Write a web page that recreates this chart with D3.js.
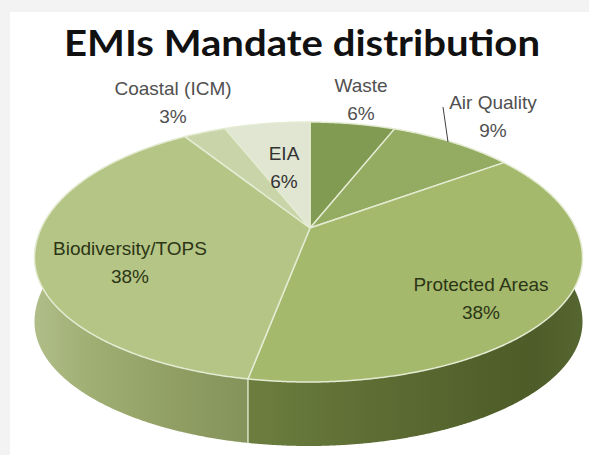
<!DOCTYPE html>
<html>
<head>
<meta charset="utf-8">
<script src="https://cdn.jsdelivr.net/npm/d3@7"></script>
<style>
  html, body { margin: 0; padding: 0; background: #ffffff; }
  svg { display: block; }
</style>
</head>
<body>
<svg id="chart" width="589" height="455"></svg>
<script>
// ---- data ----
const title = "EMIs Mandate distribution";
const categories = ["Waste", "Air Quality", "Protected Areas", "Biodiversity/TOPS", "Coastal (ICM)", "EIA"];
const values = [6, 9, 38, 38, 3, 6];
const pctLabels = ["6%", "9%", "38%", "38%", "3%", "6%"];

// ---- styles / layout ----
const topColors = ["#819b52", "#93ac61", "#a4b96c", "#b5c585", "#c9d5a8", "#e0e6d2"];
const sideStops = [
  [["#6a7f3a", 0], ["#5a6d30", 1]],
  [["#6a7f3a", 0], ["#5a6d30", 1]],
  [["#6c7e3f", 0], ["#5c6c33", 0.4], ["#4d5c28", 0.85], ["#566631", 1]],
  [["#b0bd88", 0], ["#a0af74", 0.25], ["#8f9d63", 0.7], ["#84935a", 1]],
  [["#b0bd88", 0], ["#a0af74", 1]],
  [["#b0bd88", 0], ["#a0af74", 1]]
];
const labelLayout = {
  "Waste":             { x: 361, y: 92,  color: "#505050" },
  "Air Quality":       { x: 493, y: 109, color: "#505050" },
  "Protected Areas":   { x: 481, y: 291, color: "#2c3516" },
  "Biodiversity/TOPS": { x: 130, y: 255, color: "#2c3516" },
  "Coastal (ICM)":     { x: 173, y: 95,  color: "#505050" },
  "EIA":               { x: 284, y: 160, color: "#333333" }
};
const lineGap = 28;

// geometry: apex of slices, outline of the top face (two half-ellipses), perspective angle mapping
const AX = 310, AY = 228;                       // where slices meet
const OCX = 308.5, ORX = 274, OYE = 258, ORYU = 136, ORYL = 124; // top face outline
const D = 4.99, SA = 0.464, CA = 0.889;          // perspective used for slice directions
const THICK = 64;
function dirOf(theta) {
  const z = D + Math.cos(theta) * CA;
  return [Math.sin(theta) / z, -Math.cos(theta) * SA / z];
}
function inside(x, y) {
  const u = (x - OCX) / ORX;
  const v = (y - OYE) / (y < OYE ? ORYU : ORYL);
  return u * u + v * v <= 1;
}
function rim(theta) {
  const d = dirOf(theta);
  let lo = 0, hi = 5000;
  for (let k = 0; k < 50; k++) {
    const m = (lo + hi) / 2;
    if (inside(AX + d[0] * m, AY + d[1] * m)) lo = m; else hi = m;
  }
  return [AX + d[0] * lo, AY + d[1] * lo];
}

const svg = d3.select("#chart");
const W = 589, Hh = 455;

// background: faint gray margin top/left, white card
svg.append("rect").attr("x", 0).attr("y", 0).attr("width", W).attr("height", Hh).attr("fill", "#f3f3f3");
svg.append("rect").attr("x", 10).attr("y", 12).attr("width", W - 10).attr("height", Hh - 12).attr("fill", "#ffffff");

// title
svg.append("text")
  .attr("x", 302).attr("y", 56)
  .attr("text-anchor", "middle")
  .attr("font-family", "Lato, 'Open Sans', sans-serif")
  .attr("font-weight", "bold")
  .attr("font-size", 37)
  .attr("fill", "#111111")
  .attr("textLength", 476)
  .attr("lengthAdjust", "spacingAndGlyphs")
  .text(title);

const pie = d3.pie().sort(null).startAngle(0).endAngle(2 * Math.PI);
const arcs = pie(values);
const line = d3.line();
const defs = svg.append("defs");

function sample(a0, a1, step) {
  const n = Math.max(2, Math.ceil((a1 - a0) / step));
  return d3.range(n + 1).map(i => a0 + (a1 - a0) * i / n);
}

// side walls (draw far first)
const mid = a => (a.startAngle + a.endAngle) / 2;
const wallOrder = arcs.map((a, i) => i)
  .sort((i, j) => Math.cos(mid(arcs[j])) - Math.cos(mid(arcs[i])));
const walls = svg.append("g");
wallOrder.forEach(i => {
  const a = arcs[i];
  const ts = sample(a.startAngle, a.endAngle, 0.005);
  const topPts = ts.map(rim);
  const botPts = topPts.slice().reverse().map(p => [p[0], p[1] + THICK]);
  const xs = topPts.map(p => p[0]);
  const gid = "side" + i;
  const g = defs.append("linearGradient").attr("id", gid)
    .attr("gradientUnits", "userSpaceOnUse")
    .attr("x1", d3.min(xs)).attr("x2", d3.max(xs)).attr("y1", 0).attr("y2", 0);
  sideStops[i].forEach(s => g.append("stop").attr("offset", s[1]).attr("stop-color", s[0]));
  walls.append("path")
    .attr("d", line(topPts.concat(botPts)) + "Z")
    .attr("fill", "url(#" + gid + ")");
});

// wall separators on the visible (front) side
arcs.forEach(a => {
  const t = a.startAngle;
  if (Math.cos(t) < -0.2) {
    const p0 = rim(t);
    walls.append("line").attr("x1", p0[0]).attr("y1", p0[1]).attr("x2", p0[0]).attr("y2", p0[1] + THICK)
      .attr("stroke", "#d9e2c0").attr("stroke-width", 1.5);
  }
});

// top faces
const tops = svg.append("g");
arcs.forEach((a, i) => {
  const ts = sample(a.startAngle, a.endAngle, 0.005);
  const pts = [[AX, AY]].concat(ts.map(rim));
  tops.append("path")
    .attr("d", line(pts) + "Z")
    .attr("fill", topColors[i])
    .attr("stroke", "#e4ebd2")
    .attr("stroke-width", 1.5)
    .attr("stroke-linejoin", "round");
});

// leader line for Air Quality
svg.append("line")
  .attr("x1", 443).attr("y1", 107).attr("x2", 448).attr("y2", 142)
  .attr("stroke", "#404040").attr("stroke-width", 1);

// labels
const labels = svg.append("g")
  .attr("font-family", "'Liberation Sans', Arial, sans-serif")
  .attr("font-size", 19)
  .attr("text-anchor", "middle");
categories.forEach((c, i) => {
  const L = labelLayout[c];
  const t = labels.append("text").attr("fill", L.color);
  t.append("tspan").attr("x", L.x).attr("y", L.y).text(c);
  t.append("tspan").attr("x", L.x).attr("y", L.y + lineGap).text(pctLabels[i]);
});
</script>
</body>
</html>
